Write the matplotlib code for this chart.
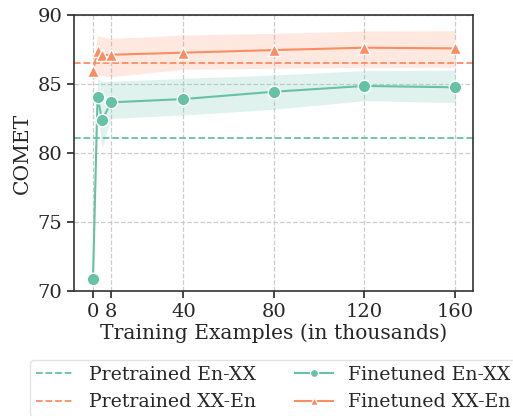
import numpy as np
import matplotlib
matplotlib.use('Agg')
import matplotlib.pyplot as plt

# training examples (thousands)
steps = [0, 2, 4, 8, 40, 80, 120, 160]

# finetuned means and shaded band limits
ft_en_xx = [70.9, 84.08, 82.39, 83.67, 83.91, 84.44, 84.86, 84.76]
ft_en_xx_lo = [70.2, 83.0, 80.36, 82.51, 82.75, 83.17, 83.79, 83.65]
ft_en_xx_hi = [71.6, 85.41, 85.17, 85.2, 85.41, 85.65, 85.97, 86.0]

ft_xx_en = [85.94, 87.39, 87.08, 87.12, 87.27, 87.46, 87.63, 87.58]
ft_xx_en_lo = [85.3, 85.7, 85.6, 85.53, 86.07, 86.14, 86.21, 86.21]
ft_xx_en_hi = [86.5, 88.53, 88.4, 88.3, 88.55, 88.67, 88.84, 88.86]

# pretrained baselines
pre_en_xx = 81.07
pre_xx_en = 86.55

xticks = [0, 8, 40, 80, 120, 160]
yticks = [70, 75, 80, 85, 90]

green = '#66c2a5'
orange = '#fc8d62'
txt = '#262626'

plt.rcParams['font.family'] = 'DejaVu Serif'
plt.rcParams['font.size'] = 14

fig = plt.figure(figsize=(5.13, 4.16), dpi=100)
ax = fig.add_axes([74/513, 1-291/416, (473-74)/513, (291-15)/416])

ax.grid(True, color='#cccccc', linestyle='--', linewidth=0.9)
ax.set_axisbelow(True)

l1 = ax.axhline(pre_en_xx, color=green, linestyle='--', linewidth=1.3, label='Pretrained En-XX')
l2 = ax.axhline(pre_xx_en, color=orange, linestyle='--', linewidth=1.3, label='Pretrained XX-En')

ax.fill_between(steps, ft_en_xx_lo, ft_en_xx_hi, color=green, alpha=0.2, linewidth=0)
ax.fill_between(steps, ft_xx_en_lo, ft_xx_en_hi, color=orange, alpha=0.2, linewidth=0)

l3, = ax.plot(steps, ft_en_xx, color=green, marker='o', markersize=9, markeredgecolor='white',
              markeredgewidth=1.0, linewidth=1.5, label='Finetuned En-XX')
l4, = ax.plot(steps, ft_xx_en, color=orange, marker='^', markersize=9, markeredgecolor='white',
              markeredgewidth=1.0, linewidth=1.5, label='Finetuned XX-En')

ax.set_xlim(-8.4, 168)
ax.set_ylim(70, 90)
ax.set_xticks(xticks)
ax.set_yticks(yticks)
ax.tick_params(colors=txt, labelsize=14, length=5, width=1.2)
for s in ax.spines.values():
    s.set_color('#333333')
    s.set_linewidth(1.2)

ax.set_xlabel('Training Examples (in thousands)', color=txt, fontsize=14.6, labelpad=2)
ax.set_ylabel('COMET', color=txt, fontsize=14.6)

leg = fig.legend(handles=[l1, l2, l3, l4], ncol=2, loc='upper left',
                 bbox_to_anchor=(30/513, 1-360/416), borderaxespad=0, fontsize=13.6,
                 frameon=True, markerscale=0.65, handlelength=2.0, columnspacing=2.1,
                 borderpad=0.3, labelspacing=0.5)
leg.get_frame().set_edgecolor('#dddddd')
for t in leg.get_texts():
    t.set_color(txt)

fig.savefig('out.png', dpi=100)
